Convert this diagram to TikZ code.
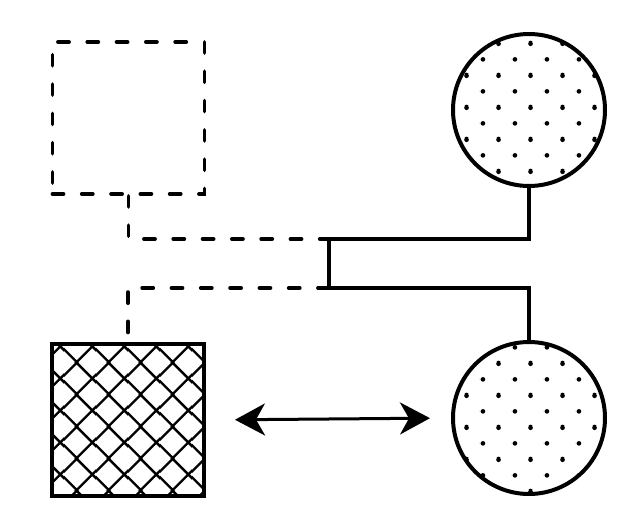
\documentclass[tikz,border=0pt]{standalone}
\usetikzlibrary{patterns.meta,arrows.meta}
\pgfdeclarepattern{
  name=dotlattice,
  type=uncolored,
  bottom left={\pgfpoint{0pt}{0pt}},
  top right={\pgfpoint{32pt}{32pt}},
  tile size={\pgfpoint{32pt}{32pt}},
  code={
    \pgfpathcircle{\pgfpoint{3pt}{15pt}}{2.4pt}
    \pgfpathcircle{\pgfpoint{35pt}{15pt}}{2.4pt}
    \pgfpathcircle{\pgfpoint{19pt}{31pt}}{2.4pt}
    \pgfpathcircle{\pgfpoint{19pt}{-1pt}}{2.4pt}
    \pgfusepath{fill}
  }
}
\pgfdeclarepattern{
  name=diamondhatch,
  type=uncolored,
  bottom left={\pgfpoint{0pt}{0pt}},
  top right={\pgfpoint{32pt}{32pt}},
  tile size={\pgfpoint{32pt}{32pt}},
  code={
    \pgfsetlinewidth{2.4pt}
    \pgfpathmoveto{\pgfpoint{-19pt}{-32pt}}
    \pgfpathlineto{\pgfpoint{45pt}{32pt}}
    \pgfpathmoveto{\pgfpoint{-19pt}{0pt}}
    \pgfpathlineto{\pgfpoint{45pt}{64pt}}
    \pgfpathmoveto{\pgfpoint{-19pt}{32pt}}
    \pgfpathlineto{\pgfpoint{45pt}{-32pt}}
    \pgfpathmoveto{\pgfpoint{-19pt}{64pt}}
    \pgfpathlineto{\pgfpoint{45pt}{0pt}}
    \pgfusepath{stroke}
  }
}
\tikzset{
  dashline/.style={line width=3.8pt, dash pattern=on 11pt off 18.3pt, line cap=round},
  solidline/.style={line width=3.8pt},
  dashsq/.style={draw, dashline, rectangle, minimum size=152pt, inner sep=0pt},
  hatchsq/.style={draw, line width=4pt, rectangle, minimum size=152pt, inner sep=0pt, pattern=diamondhatch},
  dotcirc/.style={draw, line width=4pt, circle, minimum size=152pt, inner sep=0pt, pattern=dotlattice},
  dblarrow/.style={line width=3pt, {Stealth[length=30pt,width=32pt,inset=9pt]}-{Stealth[length=30pt,width=32pt,inset=9pt]}}
}
\begin{document}
\begin{tikzpicture}[x=1pt,y=-1pt]
\useasboundingbox (0,0) rectangle (638,522);
\node[dashsq] (sqa) at (128.5,118) {};
\node[hatchsq] (sqb) at (128,420) {};
\node[dotcirc] (ca) at (529,110) {};
\node[dotcirc] (cb) at (529,418) {};
\coordinate (ja) at (329,239);
\coordinate (jb) at (329,288);
\draw[dashline] (sqa.south) |- (ja);
\draw[dashline] (jb) -| (sqb.north);
\draw[solidline, line join=miter] (ca.south) |- (ja) -- (jb) -| (cb.north);
\draw[dblarrow, shorten <=29pt, shorten >=21pt] (sqb.east) -- (cb.west);
\end{tikzpicture}
\end{document}
